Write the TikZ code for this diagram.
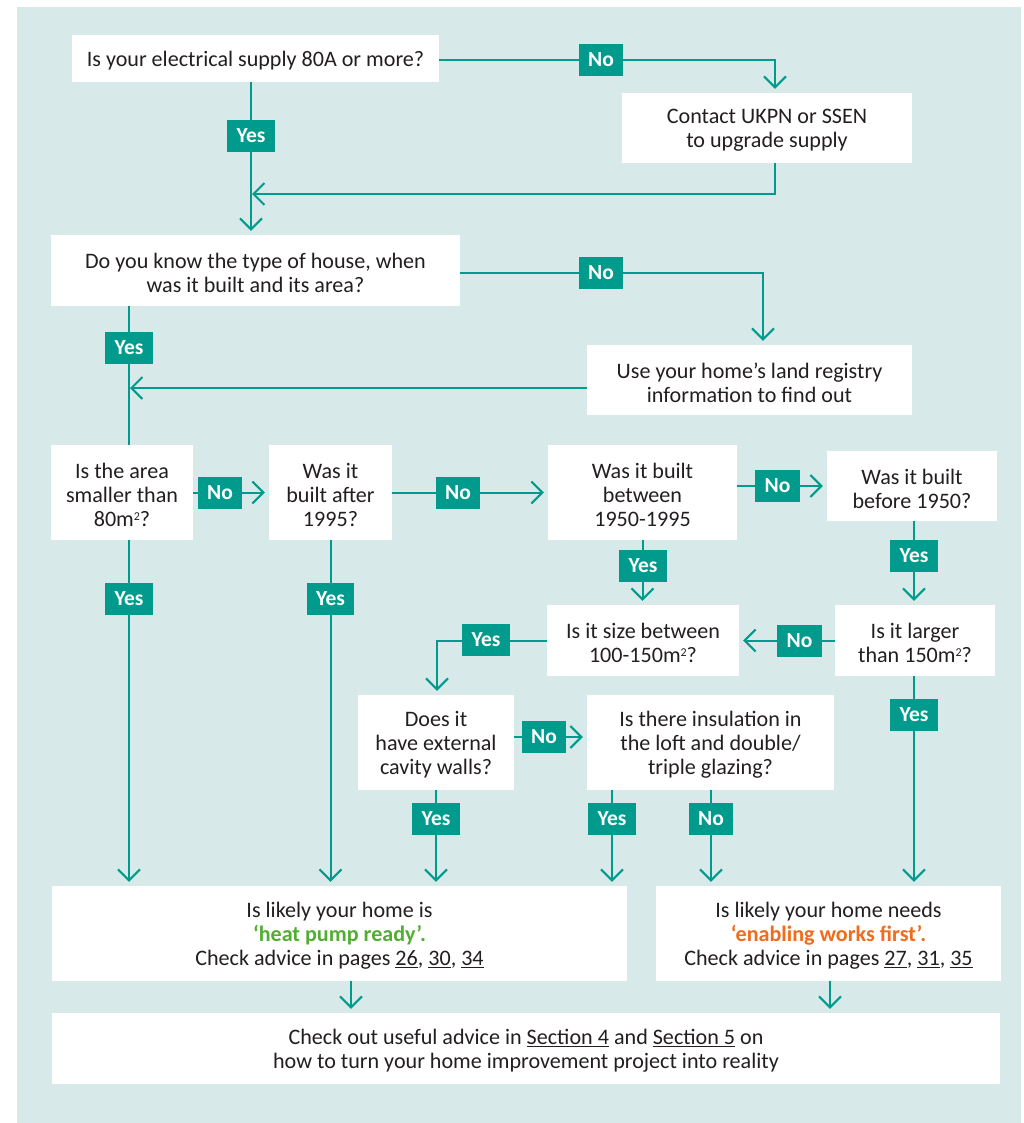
\documentclass[tikz,border=0pt]{standalone}
\usepackage{fontspec}
\setmainfont{Carlito}
\usetikzlibrary{arrows.meta}
\definecolor{tealc}{RGB}{0,155,140}
\definecolor{bgc}{RGB}{215,234,233}
\definecolor{txt}{RGB}{35,31,32}
\definecolor{greenc}{RGB}{82,174,50}
\definecolor{orangec}{RGB}{240,108,28}
\newcommand\qbox[5]{%
  \node[box, minimum width=#3, minimum height=#4] (#1) at #2 {};
  \node[boxtext] (#1-t) at ([yshift=-2.5pt]#1.center) {#5};}
\newcommand\sqr{\raisebox{6.5pt}{\fontsize{12}{12}\selectfont 2}}
\begin{document}
\begin{tikzpicture}[x=1pt,y=-1pt,
  box/.style={fill=white, inner sep=0pt},
  boxtext/.style={align=center, inner sep=0pt, text=txt,
    font=\fontsize{22.1}{24}\selectfont},
  lab/.style={fill=tealc, text=white, inner xsep=9.5pt, inner ysep=0pt,
    minimum height=32pt, font=\fontsize{21.5}{24}\selectfont\bfseries},
  conn/.style={draw=tealc, line width=2pt},
  arr/.style={conn, -{Straight Barb[length=11pt,width=22pt]}, shorten >=4pt}]
\useasboundingbox (0,0) rectangle (1023,1123);
\fill[bgc] (17,7) rectangle (1021,1123);

% helper x positions
\coordinate (xa) at (129,0);
\coordinate (xb) at (251,0);
\coordinate (xc) at (775,0);
\coordinate (xd) at (914,0);
\coordinate (xe) at (763,0);
\coordinate (xf) at (437,0);
\coordinate (xg) at (612,0);
\coordinate (xh) at (711,0);
\coordinate (xi) at (351,0);
\coordinate (xj) at (830,0);
\coordinate (xk) at (436,0);

% boxes
\qbox{q1}{(255.5,58.5)}{367pt}{47pt}{Is your electrical supply 80A or more?}
\qbox{contact}{(767,128)}{290pt}{70pt}{Contact UKPN or SSEN\\to upgrade supply}
\qbox{q2}{(255.5,270.5)}{409pt}{71pt}{Do you know the type of house, when\\was it built and its area?}
\qbox{land}{(749.5,380)}{325pt}{70pt}{Use your home’s land registry\\information to find out}
\qbox{q3}{(122,492.5)}{142pt}{95pt}{Is the area\\smaller than\\80m\sqr?}
\qbox{q4}{(330.5,492.5)}{123pt}{95pt}{Was it\\built after\\1995?}
\qbox{q5}{(642.5,492.5)}{189pt}{95pt}{Was it built\\between\\1950-1995}
\qbox{q6}{(912,486)}{170pt}{70pt}{Was it built\\before 1950?}
\qbox{q7}{(643,640.5)}{192pt}{71pt}{Is it size between\\100-150m\sqr?}
\qbox{q8}{(915,640.5)}{160pt}{71pt}{Is it larger\\than 150m\sqr?}
\qbox{q9}{(436,742.5)}{156pt}{95pt}{Does it\\have external\\cavity walls?}
\qbox{q10}{(710.5,742.5)}{247pt}{95pt}{Is there insulation in\\the loft and double/\\triple glazing?}
\qbox{r1}{(339.5,933.5)}{575pt}{95pt}{Is likely your home is\\{\color{greenc}\bfseries ‘heat pump ready’.}\\Check advice in pages \underline{26}, \underline{30}, \underline{34}}
\qbox{r2}{(828.5,933.5)}{345pt}{95pt}{Is likely your home needs\\{\color{orangec}\bfseries ‘enabling works first’.}\\Check advice in pages \underline{27}, \underline{31}, \underline{35}}
\qbox{fin}{(526,1048.5)}{948pt}{71pt}{Check out useful advice in \underline{Section 4} and \underline{Section 5} on\\how to turn your home improvement project into reality}

% connectors
\coordinate (j1) at (252,194);
\coordinate (j2) at (130,388);
\draw[arr] ([yshift=-1.5pt]q1.east) -| (contact.north -| xc);
\draw[arr] (q1.south -| xb) -- (q2.north -| xb);
\draw[arr, shorten >=0pt] (contact.south -| xc) |- (j1);
\draw[arr] ([yshift=-2.5pt]q2.east) -| (land.north -| xe);
\draw[conn] (q2.south -| xa) -- (q3.north -| xa);
\draw[arr, shorten >=0pt] (land.west |- j2) -- (j2);
\draw[arr] (q3.east) -- (q4.west);
\draw[arr] (q4.east) -- (q5.west);
\draw[arr] (q5.east |- q6.west) -- (q6.west);
\draw[arr] (q3.south -| xa) -- (r1.north -| xa);
\draw[arr] (q4.south) -- (r1.north -| q4.south);
\draw[arr] (q5.south) -- (q7.north -| q5.south);
\draw[arr] (q6.south -| xd) -- (q8.north -| xd);
\draw[arr] (q8.west) -- (q7.east);
\draw[arr] (q7.west) -| (q9.north -| xf);
\draw[arr] ([yshift=5.5pt]q9.east) -- ([yshift=5.5pt]q10.west);
\draw[arr] (q9.south -| xk) -- (r1.north -| xk);
\draw[arr] (q10.south -| xg) -- (r1.north -| xg);
\draw[arr] (q10.south -| xh) -- (r2.north -| xh);
\draw[arr] (q8.south -| xd) -- (r2.north -| xd);
\draw[arr] (r1.south -| xi) -- (fin.north -| xi);
\draw[arr] (r2.south -| xj) -- (fin.north -| xj);

% labels
\node[lab] (l1) at (601,60) {No};
\node[lab] (l2) at (251,136) {Yes};
\node[lab] (l3) at (601,273) {No};
\node[lab] (l4) at (129,348) {Yes};
\node[lab] (l5) at (220,492.5) {No};
\node[lab] (l6) at (458,492.5) {No};
\node[lab] (l7) at (777.5,486) {No};
\node[lab] (l8) at (129,599) {Yes};
\node[lab] (l9) at (330.5,599) {Yes};
\node[lab] (l10) at (643,566) {Yes};
\node[lab] (l11) at (914,556) {Yes};
\node[lab] (l12) at (799.5,640.5) {No};
\node[lab] (l13) at (486,639.5) {Yes};
\node[lab] (l14) at (544,737) {No};
\node[lab] (l15) at (436,819) {Yes};
\node[lab] (l16) at (612,819) {Yes};
\node[lab] (l17) at (711,819) {No};
\node[lab] (l18) at (914,715) {Yes};
\end{tikzpicture}
\end{document}
